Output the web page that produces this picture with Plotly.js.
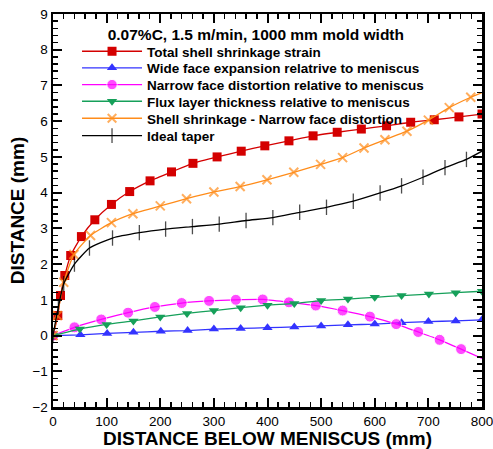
<!DOCTYPE html>
<html>
<head>
<meta charset="utf-8">
<script src="https://cdn.plot.ly/plotly-3.0.1.min.js"></script>
<style>html,body{margin:0;padding:0;background:#fff;}#chart{width:493px;height:449px;}</style>
</head>
<body>
<div id="chart"></div>
<script>
// ---- data ----
const seriesNames = [
  "Total shell shrinkage strain",
  "Wide face expansion relatrive to meniscus",
  "Narrow face distortion relative to meniscus",
  "Flux layer thickness relative to meniscus",
  "Shell shrinkage - Narrow face distortion",
  "Ideal taper"
];
const totalX = [0,9,14,22,33,53,78,109,143,181,221,261,306,351,395,440,485,530,575,622,667,711,757,800];
const totalY = [0,0.56,1.12,1.68,2.24,2.77,3.24,3.67,4.03,4.33,4.58,4.82,5.0,5.16,5.31,5.45,5.59,5.69,5.78,5.87,5.97,6.04,6.12,6.2];
const wideX = [0,51,101,150,201,251,300,350,400,450,500,550,600,650,700,751,800];
const wideY = [0,0.02,0.06,0.09,0.12,0.14,0.18,0.20,0.22,0.24,0.27,0.30,0.32,0.36,0.39,0.41,0.44];
const narrowX = [0,40,90,140,190,240,291,341,391,440,490,540,591,640,681,721,761,800];
const narrowY = [0,0.23,0.45,0.64,0.80,0.91,0.97,1.0,1.01,0.93,0.84,0.70,0.53,0.32,0.10,-0.12,-0.38,-0.64];
const fluxX = [0,50,100,150,200,250,300,350,400,450,500,550,600,650,701,751,800];
const fluxY = [0,0.18,0.31,0.41,0.52,0.62,0.70,0.78,0.85,0.90,0.98,1.02,1.07,1.12,1.16,1.20,1.24];
const shellX = [0,8,20,39,70,109,149,200,249,300,349,399,449,499,540,580,619,660,700,739,779,800];
const shellY = [0,0.56,1.49,2.27,2.8,3.16,3.41,3.63,3.83,4.02,4.17,4.36,4.57,4.79,4.98,5.25,5.48,5.72,6.03,6.38,6.67,6.8];
const taperX = [0,10,20,40,68,111,161,210,260,310,360,410,460,510,560,610,650,690,731,771,800];
const taperY = [0,0.8,1.45,2.0,2.45,2.73,2.88,2.98,3.05,3.12,3.22,3.30,3.45,3.59,3.76,3.99,4.19,4.43,4.70,4.93,5.16];
const chartTitle = "0.07%C, 1.5 m/min, 1000 mm mold width";
const xTitle = "DISTANCE BELOW MENISCUS (mm)";
const yTitle = "DISTANCE (mm)";

// marker sizes: hide marker on final end-point where the reference line just runs to the frame
function sizes(arr, s, hideLast) { return arr.map((v, i) => (hideLast && i === arr.length - 1) ? 0 : s); }

const lw = 1.3;
const legendIds = ["legend", "legend2", "legend3", "legend4", "legend5", "legend6"];
const traces = [
  {x: totalX, y: totalY, name: seriesNames[0], mode: "lines+markers",
   line: {color: "#d40000", width: lw, shape: "spline", smoothing: 0.5},
   marker: {symbol: "square", size: 9, color: "#d40000"}},
  {x: wideX, y: wideY, name: seriesNames[1], mode: "lines+markers",
   line: {color: "#3333ff", width: lw, shape: "spline", smoothing: 0.5},
   marker: {symbol: "triangle-up", size: 9, color: "#3333ff"}},
  {x: narrowX, y: narrowY, name: seriesNames[2], mode: "lines+markers",
   line: {color: "#ff00ff", width: lw, shape: "spline", smoothing: 0.5},
   marker: {symbol: "circle", size: sizes(narrowX, 11, true), color: "#ff00ff"}},
  {x: fluxX, y: fluxY, name: seriesNames[3], mode: "lines+markers",
   line: {color: "#16a05a", width: lw, shape: "spline", smoothing: 0.5},
   marker: {symbol: "triangle-down", size: 9, color: "#16a05a"}},
  {x: shellX, y: shellY, name: seriesNames[4], mode: "lines+markers",
   line: {color: "#ff8c1a", width: lw, shape: "spline", smoothing: 0.5},
   marker: {symbol: "x-thin-open", size: sizes(shellX, 9, true), color: "#ff8c1a", line: {color: "#ff8c1a", width: 2}}},
  {x: taperX, y: taperY, name: seriesNames[5], mode: "lines+markers",
   line: {color: "#000000", width: lw, shape: "spline", smoothing: 0.5},
   marker: {symbol: "line-ns-open", size: sizes(taperX, 11, true), color: "#000000", line: {color: "#000000", width: 1.3}}}
];
traces.forEach((t, i) => { t.legend = legendIds[i]; });

const font = "'Liberation Sans', Arial, sans-serif";
const axisCommon = {
  showgrid: false, zeroline: false, showline: true, linecolor: "#000", linewidth: 2.5, mirror: "allticks",
  ticks: "inside", ticklen: 9, tickwidth: 2, tickcolor: "#000", ticklabeloverflow: "allow",
  tickfont: {family: font, size: 13.5, color: "#000"},
  minor: {ticks: "inside", ticklen: 5, tickwidth: 1.5, tickcolor: "#000", showgrid: false}
};
const layout = {
  width: 493, height: 449,
  margin: {l: 53, r: 11, t: 14, b: 42},
  paper_bgcolor: "#fff", plot_bgcolor: "#fff",
  showlegend: true,
  title: {text: "<b>" + chartTitle + "</b>", x: 0.519, xanchor: "center", xref: "container",
          y: 0.922, yanchor: "middle", yref: "container",
          font: {family: font, size: 15.5, color: "#000"}},
  xaxis: Object.assign({}, axisCommon, {
    range: [0, 800], dtick: 100, tick0: 0,
    minor: Object.assign({}, axisCommon.minor, {dtick: 20}),
    title: {text: "<b>" + xTitle + "</b>", font: {family: font, size: 19, color: "#000"}, standoff: 6}
  }),
  yaxis: Object.assign({}, axisCommon, {
    range: [-2, 9], dtick: 1, tick0: 0,
    minor: Object.assign({}, axisCommon.minor, {dtick: 0.2}),
    title: {text: "<b>" + yTitle + "</b>", font: {family: font, size: 19, color: "#000"}, standoff: 3}
  })
};
// one single-entry legend per series so rows can sit at the reference spacing
const legendRowY = [0.9046, 0.8624, 0.8199, 0.7774, 0.7341, 0.6901];
legendIds.forEach((id, i) => {
  layout[id] = {x: 0.056, y: legendRowY[i], xanchor: "left", yanchor: "middle", bgcolor: "rgba(0,0,0,0)",
                borderwidth: 0, itemwidth: 60,
                font: {family: font, size: 13.5, color: "#000", weight: "bold"}};
});
Plotly.newPlot("chart", traces, layout, {displayModeBar: false, staticPlot: true});
</script>
</body>
</html>
